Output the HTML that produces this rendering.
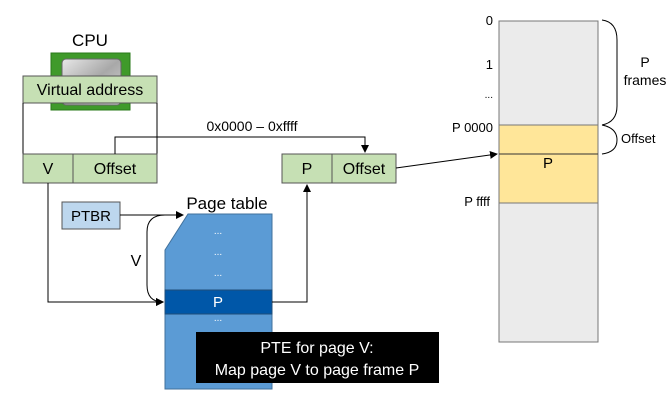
<!DOCTYPE html>
<html><head><style>
body{margin:0;width:670px;height:400px;background:#fff;overflow:hidden;font-family:"Liberation Sans",sans-serif;}
</style></head><body>
<svg width="670" height="400" xmlns="http://www.w3.org/2000/svg" font-family="Liberation Sans, sans-serif">
<defs>
<marker id="a" markerWidth="8" markerHeight="8" refX="7" refY="4" orient="auto" markerUnits="userSpaceOnUse"><path d="M0,0 L8,4 L0,8z" fill="#000"/></marker>
<linearGradient id="s" x1="0" y1="0" x2="1" y2="1"><stop offset="0" stop-color="#e8e8e8"/><stop offset="0.5" stop-color="#a8a8a8"/><stop offset="1" stop-color="#d8d8d8"/></linearGradient>
</defs>
<text x="90" y="46" font-size="17" text-anchor="middle">CPU</text>
<rect x="51" y="53" width="79" height="57" fill="#3f9a2a" stroke="#2a7a1a"/>
<rect x="62" y="59" width="59" height="46" rx="4" fill="url(#s)" stroke="#666"/>
<rect x="23" y="76" width="134" height="27" fill="#c6e0b4" stroke="#555"/>
<text x="90" y="95" font-size="16" text-anchor="middle">Virtual address</text>
<line x1="23" y1="103" x2="23" y2="154" stroke="#000"/>
<line x1="157" y1="103" x2="157" y2="154" stroke="#000"/>
<rect x="23" y="154" width="134" height="29" fill="#c6e0b4" stroke="#555"/>
<line x1="73" y1="154" x2="73" y2="183" stroke="#555"/>
<text x="48" y="174" font-size="16" text-anchor="middle">V</text>
<text x="115" y="174" font-size="16" text-anchor="middle">Offset</text>
<polyline points="115,154 115,137 365,137 365,152" fill="none" stroke="#000" marker-end="url(#a)"/>
<text x="252" y="131" font-size="14" text-anchor="middle">0x0000 – 0xffff</text>
<rect x="282" y="154" width="114" height="29" fill="#c6e0b4" stroke="#555"/>
<line x1="332" y1="154" x2="332" y2="183" stroke="#555"/>
<text x="307" y="174" font-size="16" text-anchor="middle">P</text>
<text x="364" y="174" font-size="16" text-anchor="middle">Offset</text>
<line x1="396" y1="168" x2="497" y2="154" stroke="#000" marker-end="url(#a)"/>
<rect x="62" y="202" width="58" height="27" fill="#bdd7ee" stroke="#555"/>
<text x="91" y="221" font-size="15" text-anchor="middle">PTBR</text>
<line x1="120" y1="215" x2="183" y2="215" stroke="#000" marker-end="url(#a)"/>
<text x="227" y="209" font-size="17" text-anchor="middle">Page table</text>
<path d="M188,214 L272,214 L272,389 L165,389 L165,250 Z" fill="#5b9bd5" stroke="#41719c"/>
<rect x="165" y="290" width="107" height="24" fill="#0057a8" stroke="#1f4e79"/>
<text x="218" y="307" font-size="15" fill="#fff" text-anchor="middle">P</text>
<g fill="#fff" font-size="10" text-anchor="middle"><text x="218" y="234">...</text><text x="218" y="255">...</text><text x="218" y="276">...</text><text x="218" y="321">...</text></g>
<path d="M165,215 Q147,215 147,232 L147,285 Q147,302 163,302" fill="none" stroke="#000" marker-end="url(#a)"/>
<text x="136" y="266" font-size="16" text-anchor="middle">V</text>
<polyline points="48,183 48,302 163,302" fill="none" stroke="#000" marker-end="url(#a)"/>
<polyline points="272,302 307,302 307,185" fill="none" stroke="#000" marker-end="url(#a)"/>
<rect x="196" y="332" width="243" height="51" fill="#000"/>
<text x="317" y="353" font-size="16" fill="#fff" text-anchor="middle">PTE for page V:</text>
<text x="317" y="375" font-size="16" fill="#fff" text-anchor="middle">Map page V to page frame P</text>
<rect x="499" y="21" width="99" height="321" fill="#ebebeb" stroke="#777"/>
<rect x="499" y="125" width="99" height="78" fill="#ffe699" stroke="#777"/>
<line x1="499" y1="154" x2="598" y2="154" stroke="#333"/>
<text x="548" y="168" font-size="15" text-anchor="middle">P</text>
<g font-size="13" text-anchor="end"><text x="493" y="25">0</text><text x="493" y="69">1</text><text x="493" y="98" font-size="10">...</text><text x="493" y="132">P 0000</text><text x="490" y="206">P ffff</text></g>
<path d="M602,20 Q617,22 617,40 L617,106 Q617,122 602,125" fill="none" stroke="#000"/>
<path d="M602,125 Q617,128 617,140 Q617,152 602,154" fill="none" stroke="#000"/>
<text x="645" y="67" font-size="14" text-anchor="middle">P</text>
<text x="645" y="85" font-size="14" text-anchor="middle">frames</text>
<text x="621" y="143" font-size="13">Offset</text>
</svg>
</body></html>
